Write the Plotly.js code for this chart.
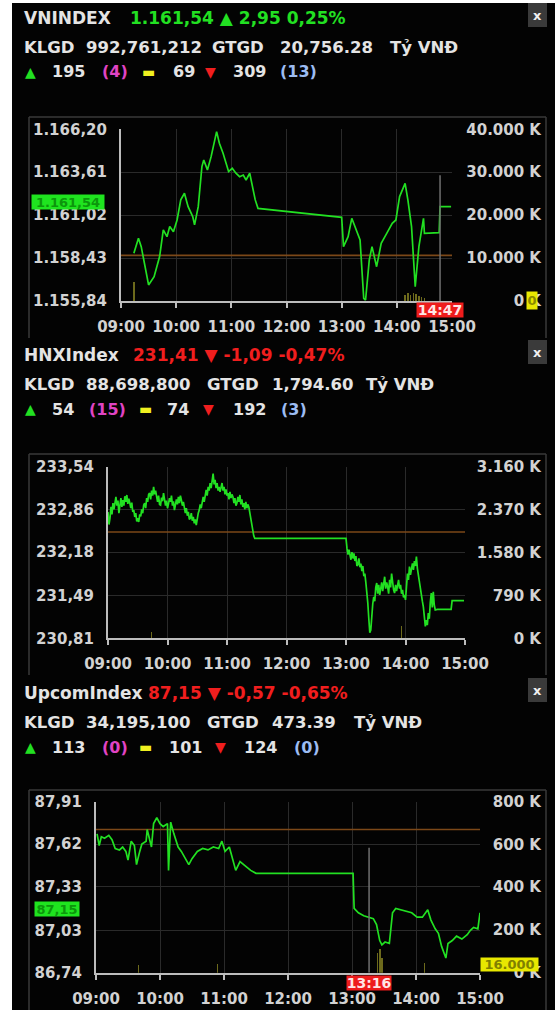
<!DOCTYPE html>
<html><head><meta charset="utf-8">
<script src="https://cdn.plot.ly/plotly-3.0.1.min.js"></script>
<style>html,body{margin:0;padding:0;background:#fff;overflow:hidden}#chart{width:555px;height:1010px}</style>
</head><body><div id="chart"></div>
<script>
const DAY = '2019-06-10 ';
const hourTicks = ['09:00','10:00','11:00','12:00','13:00','14:00','15:00'];

// ---------- VNINDEX ----------
const vnHeader = ['VNINDEX', '1.161,54 ▲ 2,95 0,25%'];
const vnTrade = ['992,761,212', '20,756.28'];
const vnBreadth = ['195', '(4)', '69', '309', '(13)'];
const vnTimes = ['09:14','09:19','09:22','09:24','09:30','09:36','09:42','09:46','09:50','09:53','09:57','10:01','10:05','10:09','10:13','10:18','10:20','10:24','10:28','10:30','10:34','10:38','10:42','10:44','10:47','10:51','10:57','11:01','11:05','11:09','11:13','11:16','11:20','11:23','11:26','11:29','13:00','13:02','13:07','13:11','13:16','13:20','13:24','13:26','13:30','13:33','13:38','13:43','13:49','13:55','13:59','14:03','14:09','14:12','14:16','14:20','14:24','14:29','14:30','14:46','14:47','14:59'];
const vnValues = [1158.72,1159.62,1159.12,1158.52,1156.81,1157.31,1158.52,1160.13,1159.72,1160.33,1160.02,1160.73,1161.94,1162.34,1161.53,1160.93,1160.43,1161.53,1163.95,1164.35,1163.75,1164.55,1165.56,1166.06,1165.36,1164.75,1163.65,1163.85,1163.55,1163.34,1163.44,1163.14,1163.55,1162.74,1161.94,1161.43,1160.89,1159.12,1159.72,1160.83,1160.13,1159.52,1156.00,1155.90,1158.31,1159.12,1157.91,1159.32,1159.92,1160.53,1160.73,1162.14,1162.94,1161.94,1160.33,1156.71,1159.12,1160.83,1159.92,1159.96,1161.54,1161.54];
const vnVolTimes = ['09:14','14:09','14:12','14:15','14:18','14:21','14:24','14:27','14:30'];
const vnVolValues = [4400,1300,1900,1500,1800,1600,1200,1000,700];
const vnPrevClose = 1158.59;
const vnLast = 1161.54;
const vnYTicks = [1155.84,1158.43,1161.02,1163.61,1166.20];
const vnYTickText = ['1.155,84','1.158,43','1.161,02','1.163,61','1.166,20'];
const vnVolTicks = [0,10000,20000,30000,40000];
const vnVolTickText = ['0 K','10.000 K','20.000 K','30.000 K','40.000 K'];
const vnCursorTime = '14:47';
const vnCursorTop = 29300;
const vnCursorVol = '0';

// ---------- HNXIndex ----------
const hnxHeader = ['HNXIndex', '231,41 ▼ -1,09 -0,47%'];
const hnxTrade = ['88,698,800', '1,794.60'];
const hnxBreadth = ['54', '(15)', '74', '192', '(3)'];
const hnxTimes = ['09:00','09:01','09:02','09:03','09:04','09:05','09:06','09:07','09:08','09:09','09:10','09:11','09:12','09:13','09:14','09:15','09:16','09:17','09:18','09:19','09:20','09:21','09:22','09:23','09:24','09:25','09:26','09:27','09:28','09:29','09:30','09:31','09:32','09:33','09:34','09:35','09:36','09:37','09:38','09:39','09:40','09:41','09:42','09:43','09:44','09:45','09:46','09:47','09:48','09:49','09:50','09:51','09:52','09:53','09:54','09:55','09:56','09:57','09:58','09:59','10:00','10:01','10:02','10:03','10:04','10:05','10:06','10:07','10:08','10:09','10:10','10:11','10:12','10:13','10:14','10:15','10:16','10:17','10:18','10:19','10:20','10:21','10:22','10:23','10:24','10:25','10:26','10:27','10:28','10:29','10:30','10:31','10:32','10:33','10:34','10:35','10:36','10:37','10:38','10:39','10:40','10:41','10:42','10:43','10:44','10:45','10:46','10:47','10:48','10:49','10:50','10:51','10:52','10:53','10:54','10:55','10:56','10:57','10:58','10:59','11:00','11:01','11:02','11:03','11:04','11:05','11:06','11:07','11:08','11:09','11:10','11:11','11:12','11:13','11:14','11:15','11:16','11:17','11:18','11:19','11:20','11:21','11:22','11:23','11:24','11:25','11:26','11:27','11:28',
  '13:00','13:01','13:02','13:03','13:04','13:05','13:06','13:07','13:08','13:09','13:10','13:11','13:12','13:13','13:14','13:15','13:16','13:17','13:18','13:19','13:20','13:21','13:22','13:23','13:24','13:25','13:26','13:27','13:28','13:29','13:30','13:31','13:32','13:33','13:34','13:35','13:36','13:37','13:38','13:39','13:40','13:41','13:42','13:43','13:44','13:45','13:46','13:47','13:48','13:49','13:50','13:51','13:52','13:53','13:54','13:55','13:56','13:57','13:58','13:59','14:00','14:01','14:02','14:03','14:04','14:05','14:06','14:07','14:08','14:09','14:10','14:11','14:12','14:13','14:14','14:15','14:16','14:17','14:18','14:19','14:20','14:21','14:22','14:23','14:24','14:25','14:26','14:27','14:28','14:29','14:30','14:32','14:46','14:47','14:59'];
const hnxValues = [232.82,232.62,232.72,232.90,232.78,232.96,232.86,233.02,233.06,232.92,233.00,232.80,232.94,233.04,232.90,233.01,232.92,233.07,232.98,233.09,232.95,233.03,232.96,232.88,232.97,232.82,232.85,232.74,232.80,232.67,232.72,232.66,232.78,232.75,232.86,232.80,232.93,232.96,232.88,233.04,232.98,233.10,233.12,233.02,233.16,233.08,233.22,233.10,233.16,233.06,232.98,233.08,232.94,232.93,233.05,232.99,233.12,233.02,232.92,233.00,232.88,232.95,233.04,232.98,233.08,232.92,232.99,232.85,232.96,233.02,232.94,233.06,232.96,233.08,233.01,232.92,232.98,232.86,232.80,232.88,232.76,232.82,232.70,232.72,232.80,232.68,232.74,232.64,232.70,232.61,232.74,232.80,232.85,232.94,232.88,233.00,233.06,232.98,233.12,233.17,233.08,233.22,233.16,233.28,233.20,233.34,233.43,233.26,233.33,233.20,233.28,233.16,233.22,233.14,233.24,233.28,233.16,233.22,233.10,233.18,233.08,233.12,233.02,233.14,233.04,233.10,233.06,232.96,233.04,232.92,232.96,233.06,232.98,233.09,232.94,233.02,232.90,232.96,232.86,232.98,232.88,232.94,232.90,232.80,232.75,232.62,232.53,232.44,232.40,
  232.40,232.24,232.14,232.22,232.10,232.06,232.18,232.08,232.16,232.04,232.12,231.96,231.98,232.08,231.94,232.00,231.88,231.96,231.80,231.84,231.70,231.58,231.37,231.12,230.90,230.94,231.20,231.36,231.47,231.40,231.62,231.69,231.52,231.66,231.50,231.58,231.70,231.56,231.72,231.79,231.60,231.70,231.63,231.52,231.74,231.62,231.84,231.64,231.58,231.53,231.66,231.56,231.70,231.74,231.60,231.66,231.52,231.58,231.46,231.50,231.42,231.60,231.84,231.74,231.95,231.82,231.92,232.00,231.90,232.04,231.96,232.11,231.92,231.80,231.69,231.60,231.48,231.40,231.31,231.16,231.00,231.10,231.02,231.21,231.12,231.38,231.53,231.30,231.55,231.34,231.26,231.27,231.27,231.41,231.41];
const hnxVolTimes = ['09:44','13:56'];
const hnxVolValues = [110,220];
const hnxPrevClose = 232.50;
const hnxYTicks = [230.81,231.49,232.18,232.86,233.54];
const hnxYTickText = ['230,81','231,49','232,18','232,86','233,54'];
const hnxVolTicks = [0,790,1580,2370,3160];
const hnxVolTickText = ['0 K','790 K','1.580 K','2.370 K','3.160 K'];

// ---------- UpcomIndex ----------
const upHeader = ['UpcomIndex', '87,15 ▼ -0,57 -0,65%'];
const upTrade = ['34,195,100', '473.39'];
const upBreadth = ['113', '(0)', '101', '124', '(0)'];
const upTimes = ['09:01','09:03','09:05','09:08','09:12','09:15','09:18','09:22','09:25','09:28','09:30','09:33','09:36','09:38','09:41','09:43','09:47','09:48','09:52','09:54','09:57','10:00','10:03','10:07','10:08','10:10','10:13','10:17','10:20','10:23','10:27','10:30','10:35','10:40','10:45','10:50','10:55','10:58','11:01','11:05','11:08','11:11','11:15','11:20','11:25','11:30','13:01','13:02','13:06','13:11','13:16','13:20','13:23','13:26','13:28','13:31','13:35','13:36','13:38','13:41','13:46','13:51','13:56','14:01','14:06','14:11','14:14','14:18','14:21','14:24','14:28','14:30','14:34','14:38','14:43','14:48','14:51','14:54','14:58','15:00'];
const upValues = [87.69,87.61,87.67,87.66,87.68,87.65,87.59,87.58,87.60,87.57,87.51,87.64,87.61,87.48,87.57,87.62,87.64,87.72,87.60,87.76,87.80,87.76,87.74,87.76,87.44,87.77,87.69,87.60,87.57,87.53,87.48,87.52,87.57,87.59,87.58,87.60,87.59,87.64,87.57,87.60,87.51,87.44,87.50,87.47,87.44,87.42,87.42,87.18,87.15,87.13,87.12,87.11,87.07,86.96,86.93,86.95,86.94,87.01,87.15,87.18,87.17,87.16,87.15,87.12,87.12,87.17,87.10,87.04,87.01,86.92,86.84,86.94,86.96,86.99,86.97,87.00,87.03,87.05,87.04,87.15];
const upVolTimes = ['09:40','10:54','13:24','13:26','13:28','14:08'];
const upVolValues = [37,40,90,112,70,47];
const upPrevClose = 87.72;
const upLast = 87.15;
const upYTicks = [86.74,87.03,87.33,87.62,87.91];
const upYTickText = ['86,74','87,03','87,33','87,62','87,91'];
const upVolTicks = [0,200,400,600,800];
const upVolTickText = ['0 K','200 K','400 K','600 K','800 K'];
const upCursorTime = '13:16';
const upCursorTop = 585;
const upCursorVol = '16.000';

// ---------- helpers ----------
const W = 555, H = 1010;
const px = v => v / W, py = v => 1 - v / H;
const T = arr => arr.map(t => DAY + t);
const FONT = 'DejaVu Sans';
const GREEN = '#22e022', RED = '#f01e1e', WHITE = '#e4e4e4';
const GRID = '#2a2a2a', AXIS = '#bdbdbd', TICKC = '#d2d2d2';

function sectionTraces(xa, ya, yv, times, vals, prev, volT, volV, cursorT, cursorTop) {
  const tr = [];
  tr.push({type:'bar', x:T(volT), y:volV, xaxis:xa, yaxis:yv, marker:{color:'#6d6a1c'}, width:90000, hoverinfo:'skip'});
  if (cursorT) tr.push({type:'scatter', mode:'lines', x:T([cursorT,cursorT]), y:[0,cursorTop], xaxis:xa, yaxis:yv, line:{color:'#707070', width:1.5}, hoverinfo:'skip'});
  tr.push({type:'scatter', mode:'lines', x:T(['09:00','15:00']), y:[prev,prev], xaxis:xa, yaxis:ya, line:{color:'#7c4818', width:1.6}, hoverinfo:'skip'});
  tr.push({type:'scatter', mode:'lines', x:T(times), y:vals, xaxis:xa, yaxis:ya, line:{color:GREEN, width:1.7}, hoverinfo:'skip'});
  return tr;
}

const data = [
  ...sectionTraces('x','y','y2', vnTimes, vnValues, vnPrevClose, vnVolTimes, vnVolValues, vnCursorTime, vnCursorTop),
  ...sectionTraces('x2','y3','y4', hnxTimes, hnxValues, hnxPrevClose, hnxVolTimes, hnxVolValues, null, 0),
  ...sectionTraces('x3','y5','y6', upTimes, upValues, upPrevClose, upVolTimes, upVolValues, upCursorTime, upCursorTop)
];

const tickFont = {family:FONT, size:15, color:TICKC, weight:'bold'};
function xAxis(x0, x1, anchor) {
  return {domain:[px(x0), px(x1)], anchor, type:'date', range:[DAY+'09:00', DAY+'15:00'],
    tickvals:T(hourTicks), ticktext:hourTicks, showgrid:true, gridcolor:GRID, gridwidth:1,
    showline:true, linecolor:AXIS, linewidth:2, ticks:'outside', ticklen:5, tickwidth:2, tickcolor:AXIS,
    tickfont:tickFont, ticklabelstandoff:6, zeroline:false, fixedrange:true};
}
function yAxis(y0, y1, anchor, range, tv, tt) {
  return {domain:[py(y1), py(y0)], anchor, range, tickvals:tv, ticktext:tt, showgrid:true, gridcolor:GRID,
    showline:true, linecolor:AXIS, linewidth:2, ticks:'', tickfont:tickFont, ticklabelstandoff:9,
    zeroline:false, fixedrange:true};
}
function vAxis(over, range, tv, tt) {
  return {overlaying:over, anchor:'free', side:'left', position:px(541), range, tickvals:tv, ticktext:tt,
    showgrid:false, showline:false, ticks:'', tickfont:tickFont, ticklabelstandoff:0, zeroline:false, fixedrange:true};
}

const annotations = [];
const shapes = [];
function txt(text, x, y, color, size, extra) {
  annotations.push(Object.assign({text, xref:'paper', yref:'paper', x:px(x), y:py(y), xanchor:'left', yanchor:'middle',
    showarrow:false, font:{family:FONT, size:size||16.5, color, weight:'bold'}}, extra||{}));
}
function line(x0,y0,x1,y1,color,w){
  shapes.push({type:'line', xref:'paper', yref:'paper', x0:px(x0), y0:py(y0), x1:px(x1), y1:py(y1), line:{color, width:w}});
}
function rect(x0,y0,x1,y1,color,layer){
  shapes.push({type:'rect', xref:'paper', yref:'paper', x0:px(x0), y0:py(y0), x1:px(x1), y1:py(y1), fillcolor:color, line:{width:0}, layer:layer||'above'});
}

function header(base, head, headColor, headX, trade, tradeX, breadth, bX) {
  txt(head[0], 22, base, WHITE, 17);
  txt(head[1], headX, base, headColor, 17);
  txt('KLGD', 22, base+29, WHITE);
  txt(trade[0], 84, base+29, WHITE);
  txt('GTGD', tradeX[0], base+29, WHITE);
  txt(trade[1], tradeX[1], base+29, WHITE);
  txt('Tỷ VNĐ', tradeX[2], base+29, WHITE);
  const y3 = base + 54;
  txt('▲', bX[0], y3, GREEN, 14);
  txt(breadth[0], bX[1], y3, WHITE, 16);
  txt(breadth[1], bX[2], y3, '#e044c4', 16);
  txt('▬', bX[3], y3, '#f0f020', 14);
  txt(breadth[2], bX[4], y3, WHITE, 16);
  txt('▼', bX[5], y3, RED, 14);
  txt(breadth[3], bX[6], y3, WHITE, 16);
  txt(breadth[4], bX[7], y3, '#9cbcf2', 16);
  // close button
  rect(528, base-15, 547, base+9, '#3a3a3a');
  annotations.push({text:'x', xref:'paper', yref:'paper', x:px(537.5), y:py(base-3), xanchor:'center', yanchor:'middle',
    showarrow:false, font:{family:FONT, size:13, color:'#f0f0f0', weight:'bold'}});
}

header(18, vnHeader, GREEN, 128, vnTrade, [210,278,388], vnBreadth, [23,50,100,140,171,203,231,278]);
header(355, hnxHeader, RED, 131, hnxTrade, [205,270,364], hnxBreadth, [23,50,87,137,165,201,231,279]);
header(693, upHeader, RED, 146, upTrade, [205,270,352], upBreadth, [23,50,100,137,167,213,242,292]);

// chart boxes
const BOX = '#3a3a3a';
[[117,338],[454,675],[790,1010]].forEach(([t,b]) => {
  line(29,t,546,t,BOX,1.5); line(29,t,29,b,BOX,1.5); line(546,t,546,b,BOX,1.5);
});

// value / cursor labels
annotations.push({text:'1.161,54', xref:'paper', yref:'y', x:px(68), y:vnLast, yshift:5, xanchor:'center', yanchor:'middle',
  showarrow:false, bgcolor:'#1fe41f', width:72, height:14, borderpad:0, font:{family:FONT, size:13, color:'#0c960c', weight:'bold'}});
annotations.push({text:'87,15', xref:'paper', yref:'y5', x:px(57), y:upLast, yshift:4, xanchor:'center', yanchor:'middle',
  showarrow:false, bgcolor:'#1fe41f', width:44, height:14, borderpad:0, font:{family:FONT, size:13, color:'#0c960c', weight:'bold'}});
annotations.push({text:vnCursorTime, xref:'x', yref:'paper', x:DAY+vnCursorTime, y:py(310), xanchor:'center', yanchor:'middle',
  showarrow:false, bgcolor:'#ee1c1c', width:46, height:14, borderpad:0, font:{family:FONT, size:14, color:'#ffe6e6', weight:'bold'}});
annotations.push({text:upCursorTime, xref:'x3', yref:'paper', x:DAY+upCursorTime, y:py(983), xanchor:'center', yanchor:'middle',
  showarrow:false, bgcolor:'#ee1c1c', width:44, height:14, borderpad:0, font:{family:FONT, size:14, color:'#ffe6e6', weight:'bold'}});
annotations.push({text:vnCursorVol, xref:'paper', yref:'paper', x:px(532), y:py(300), xanchor:'center', yanchor:'middle',
  showarrow:false, bgcolor:'#e8e800', width:10, height:17, borderpad:0, font:{family:FONT, size:13, color:'#8a8a00', weight:'bold'}});
annotations.push({text:upCursorVol, xref:'paper', yref:'paper', x:px(509), y:py(964), xanchor:'center', yanchor:'middle',
  showarrow:false, bgcolor:'#e8e800', width:57, height:13, borderpad:0, font:{family:FONT, size:13, color:'#808000', weight:'bold'}});

// white page margins
rect(0, 0, 12, 1010, '#ffffff');
rect(0, 0, 555, 3, '#ffffff');

const layout = {
  width:W, height:H, margin:{l:0,r:0,t:0,b:0}, paper_bgcolor:'#030303', plot_bgcolor:'rgba(0,0,0,0)',
  showlegend:false, bargap:0,
  xaxis:xAxis(121,452,'y'), xaxis2:xAxis(108,465,'y3'), xaxis3:xAxis(96,480,'y5'),
  yaxis:yAxis(129.3,301,'x',[1155.84,1166.20],vnYTicks,vnYTickText),
  yaxis2:vAxis('y',[0,40000],vnVolTicks,vnVolTickText),
  yaxis3:yAxis(466.7,638.3,'x2',[230.81,233.54],hnxYTicks,hnxYTickText),
  yaxis4:vAxis('y3',[0,3160],hnxVolTicks,hnxVolTickText),
  yaxis5:yAxis(801.7,972.7,'x3',[86.74,87.91],upYTicks,upYTickText),
  yaxis6:vAxis('y5',[0,800],upVolTicks,upVolTickText),
  annotations, shapes
};
Plotly.newPlot('chart', data, layout, {displayModeBar:false, staticPlot:true});
</script></body></html>
